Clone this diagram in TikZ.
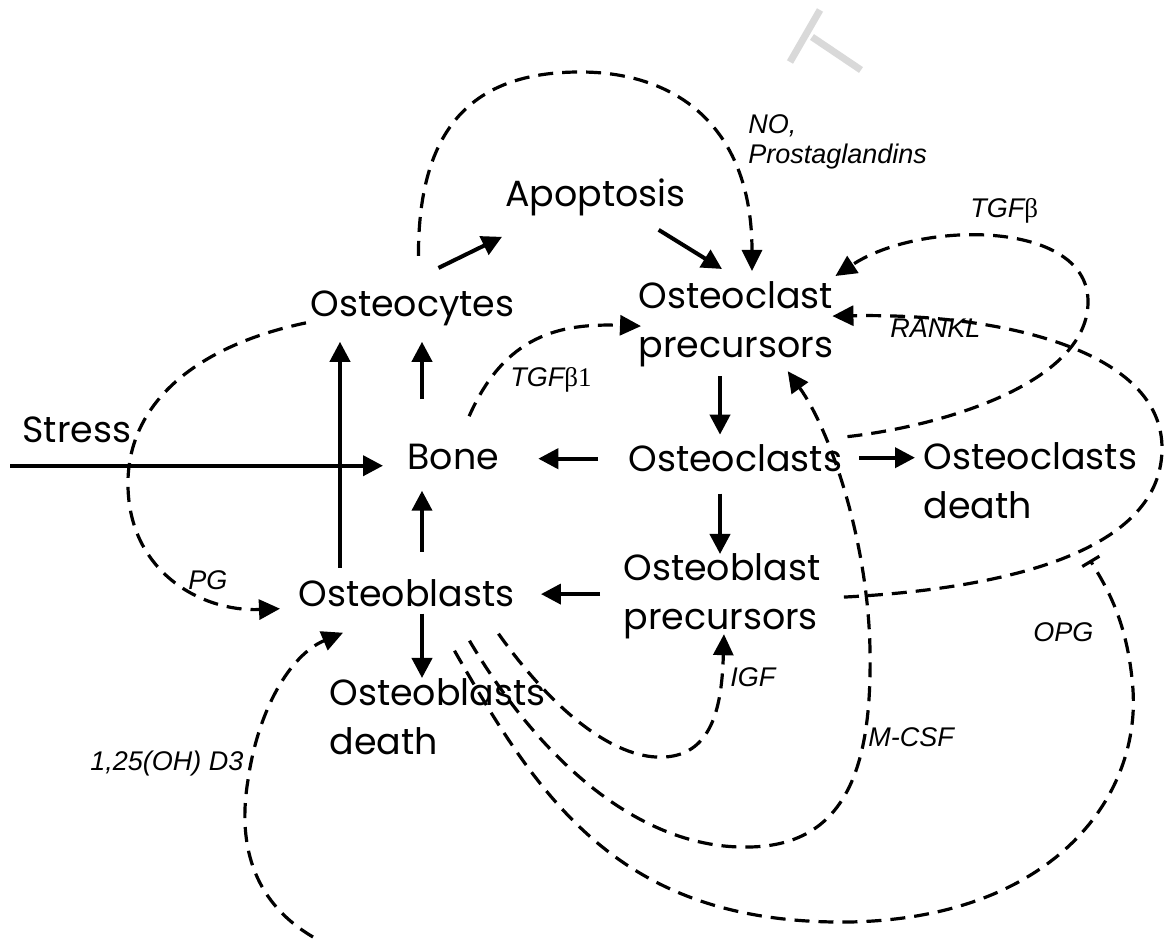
\documentclass[tikz,border=0pt]{standalone}
\usepackage{fontspec}
\setmainfont{Poppins}
\newfontfamily\labelfont{Liberation Sans}
\newfontfamily\greekfont{Liberation Serif}
\usepackage{tikz}
\usetikzlibrary{arrows.meta, calc}
\newcommand{\gb}[1]{{\greekfont\upshape #1}}

\begin{document}
\begin{tikzpicture}[
  x=0.5pt, y=-0.5pt,
  font=\fontsize{18.2}{24.5}\selectfont,
  cell/.style={inner sep=0pt, anchor=base west},
  cell2/.style={inner sep=0pt, anchor=north west, align=left},
  lbl/.style={inner sep=0pt, anchor=base west, font=\fontsize{13.5}{15}\selectfont\labelfont\itshape},
  flow/.style={line width=2pt, -{Triangle[length=10pt,width=10pt]}},
  sig/.style={line width=1.6pt, dash pattern=on 7.5pt off 4.5pt, -{Triangle[length=10.5pt,width=10pt]}},
  inhib/.style={line width=1.6pt, dash pattern=on 7.5pt off 4.5pt, -{Bar[width=10pt]}}
]
\useasboundingbox (0,0) rectangle (1168,940);
\draw[black!15, line width=3.5pt] (820,10) -- (790,62);
\draw[black!15, line width=3.5pt] (812,37) -- (861,70);

\node[cell] (stress) at (22,443) {Stress};
\node[cell] (ocyte) at (310,317) {Osteocytes};
\node[cell] (apop) at (505,207) {Apoptosis};
\node[cell2] (ocp) at (638,281) {Osteoclast\\precursors};
\node[cell] (bone) at (407,470) {Bone};
\node[cell] (oclast) at (628,472) {Osteoclasts};
\node[cell2] (ocd) at (923,442) {Osteoclasts\\death};
\node[cell2] (obp) at (623,553) {Osteoblast\\precursors};
\node[cell] (oblast) at (298,607) {Osteoblasts};
\node[cell2] (obd) at (329,678) {Osteoblasts\\death};

\node[lbl, anchor=north west, align=left] (lno) at (748,114) {NO,\\Prostaglandins};
\node[lbl] (ltgfb) at (970,218) {TGF\gb{β}};
\node[lbl] (lrankl) at (890,338) {RANKL};
\node[lbl] (ltgfbone) at (510,387) {TGF\gb{β1}};
\node[lbl] (lpg) at (188,590) {PG};
\node[lbl] (ligf) at (730,687) {IGF};
\node[lbl] (lmcsf) at (868,747) {M-CSF};
\node[lbl] (lopg) at (1033,642) {OPG};
\node[lbl] (ldthree) at (90,770) {1,25(OH) D3};

\coordinate (dsrc) at (313,937);
\coordinate (rankx) at (1090,560);

\draw[flow] ($(stress.south west)+(-12,22)$) -- ($(stress.south west -| bone.west)+(-24,22)$);
\draw[flow] ($(ocyte.north)+(26,-23)$) -- ($(apop.south west)+(-3,20)$);
\draw[flow] ($(apop.south)+(63,13)$) -- ($(ocp.north west)+(84,-12)$);
\draw[flow] ($(bone.north west)+(15,-45)$) -- ($(bone.north west |- ocyte.south)+(15,15)$);
\draw[flow] ($(oblast.north west)+(42,-12)$) -- ($(oblast.north west |- ocyte.south)+(42,15)$);
\draw[flow] ($(bone.south west |- oblast.north)+(15,-28)$) -- ($(bone.south west)+(15,20)$);
\draw[flow] ($(bone.south west |- oblast.south)+(15,6)$) -- ($(bone.south west |- obd.north)+(15,0)$);
\draw[flow] ($(oclast.west)+(-30,0)$) -- ($(oclast.west -| bone.east)+(39,0)$);
\draw[flow] ($(oclast.north west |- ocp.south)+(92,9)$) -- ($(oclast.north west)+(92,-10)$);
\draw[flow] ($(oclast.south west)+(92,21)$) -- ($(oclast.south west |- obp.north)+(92,1)$);
\draw[flow] ($(obp.west)+(-23,-2)$) -- ($(obp.west -| oblast.east)+(26,-2)$);
\draw[flow] ($(oclast.east)+(17,-1)$) -- ($(oclast.east -| ocd.west)+(-8,-1)$);

\draw[sig] ($(ocyte.north)+(6,-35)$) .. controls (418,120) and (480,72) .. (580,72)
  .. controls (680,72) and (752,130) .. ($(ocp.north west)+(114,-10)$);
\draw[sig] ($(bone.north)+(16,-28)$) .. controls (505,335) and (560,323) .. ($(ocp.west)+(3,2)$);
\draw[sig] ($(ocyte.west)+(-4,14)$) .. controls (200,345) and (130,400) .. (128,480)
  .. controls (126,570) and (200,612) .. ($(oblast.west)+(-18,15)$);
\draw[sig] ($(oclast.north east)+(5,-8)$) .. controls (950,425) and (1090,380) .. (1088,300)
  .. controls (1086,220) and (920,220) .. ($(ocp.north east)+(2,-5)$);
\draw[sig] ($(obp.east)+(23,1)$) .. controls (980,590) and (1160,560) .. (1162,450)
  .. controls (1164,350) and (1000,313) .. ($(ocp.east)+(-1,-8)$);
\draw[inhib] ($(oblast.south)+(48,43)$) .. controls (540,800) and (620,925) .. (850,922)
  .. controls (1050,918) and (1140,800) .. (1133,690)
  .. controls (1128,620) and (1105,585) .. (rankx);
\draw[sig] ($(oblast.south)+(63,33)$) .. controls (540,760) and (640,850) .. (750,847)
  .. controls (850,845) and (872,760) .. (870,650)
  .. controls (868,540) and (830,430) .. ($(ocp.south)+(52,4)$);
\draw[sig] ($(oblast.south)+(92,26)$) .. controls (560,720) and (620,760) .. (665,757)
  .. controls (715,754) and (722,700) .. ($(obp.south)+(2,-5)$);
\draw[sig] (dsrc) .. controls (250,900) and (238,840) .. (248,780)
  .. controls (258,710) and (290,655) .. ($(oblast.south west)+(45,25)$);
\end{tikzpicture}
\end{document}
